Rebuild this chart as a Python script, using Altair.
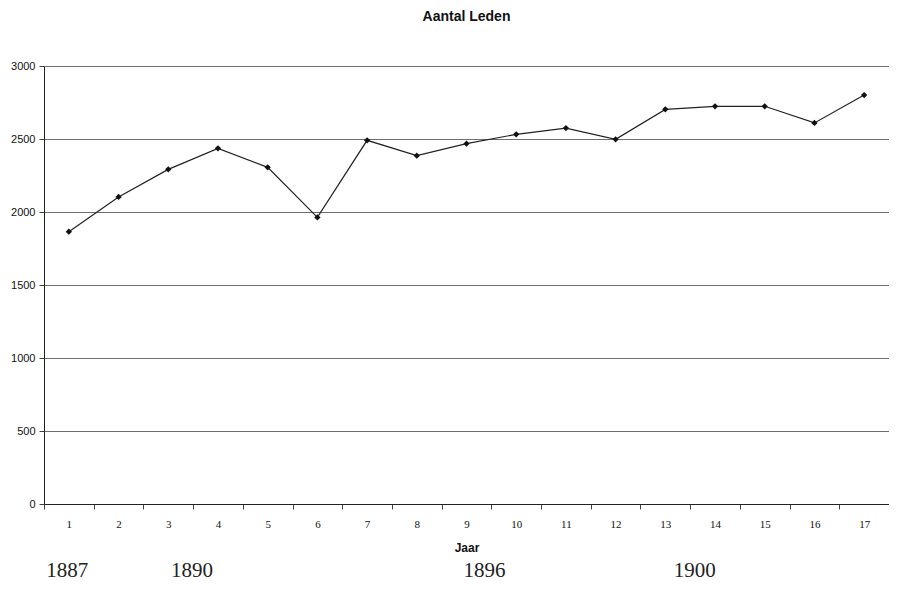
import altair as alt
import pandas as pd

jaar = list(range(1, 18))
leden = [1865, 2103, 2292, 2436, 2306, 1963, 2491, 2386, 2468, 2532,
         2575, 2498, 2703, 2724, 2724, 2610, 2801]
y_ticks = [0, 500, 1000, 1500, 2000, 2500, 3000]
ann_labels = ["1887", "1890", "1896", "1900"]
ann_pos = [0.97, 3.48, 9.36, 13.59]

W, H = 845, 438
half_band = W / 17 / 2

df = pd.DataFrame({"jaar": jaar, "leden": leden})
ann = pd.DataFrame({"jaar": ann_pos, "label": ann_labels})

xscale = alt.Scale(domain=[0.5, 17.5], nice=False, zero=False)

x_enc = alt.X(
    "jaar:Q", scale=xscale, title="Jaar",
    axis=alt.Axis(values=jaar, format="d", grid=False, tickSize=5,
                  tickOffset=-half_band, labelOffset=half_band,
                  labelFont="Liberation Serif", labelFontSize=11,
                  labelColor="#111", labelPadding=9,
                  titleFont="Liberation Sans", titleFontSize=12,
                  titleFontWeight="bold", titleColor="#111", titlePadding=13,
                  domainColor="#222", tickColor="#444"))
y_enc = alt.Y(
    "leden:Q", scale=alt.Scale(domain=[0, 3000], nice=False), title=None,
    axis=alt.Axis(values=y_ticks, format="d", grid=True, gridColor="#6f6f6f",
                  gridWidth=1, tickSize=5, labelPadding=4,
                  labelFont="Liberation Sans", labelFontSize=11,
                  labelColor="#111", domainColor="#222", tickColor="#444",
                  minExtent=36, maxExtent=36))

line = alt.Chart(df).mark_line(color="#222", strokeWidth=1.2).encode(x=x_enc, y=y_enc)
pts = alt.Chart(df).mark_point(shape="diamond", filled=True, color="#111",
                               size=40, opacity=1).encode(x=x_enc, y=y_enc)

years = alt.Chart(ann).mark_text(
    font="Liberation Serif", fontSize=21, color="#222",
    baseline="alphabetic", align="center"
).encode(
    x=x_enc,
    y=alt.value(H + 73),
    text="label:N",
)

chart = alt.layer(line, pts, years).properties(
    width=W, height=H,
    title=alt.Title("Aantal Leden", font="Liberation Sans", fontSize=14,
                    fontWeight="bold", color="#111", offset=36, anchor="middle"),
).configure(
    padding={"left": 0, "top": 2, "right": 0, "bottom": 0}
).configure_view(stroke=None)

chart.save("out.html", embed_options={"renderer": "svg", "actions": False})
